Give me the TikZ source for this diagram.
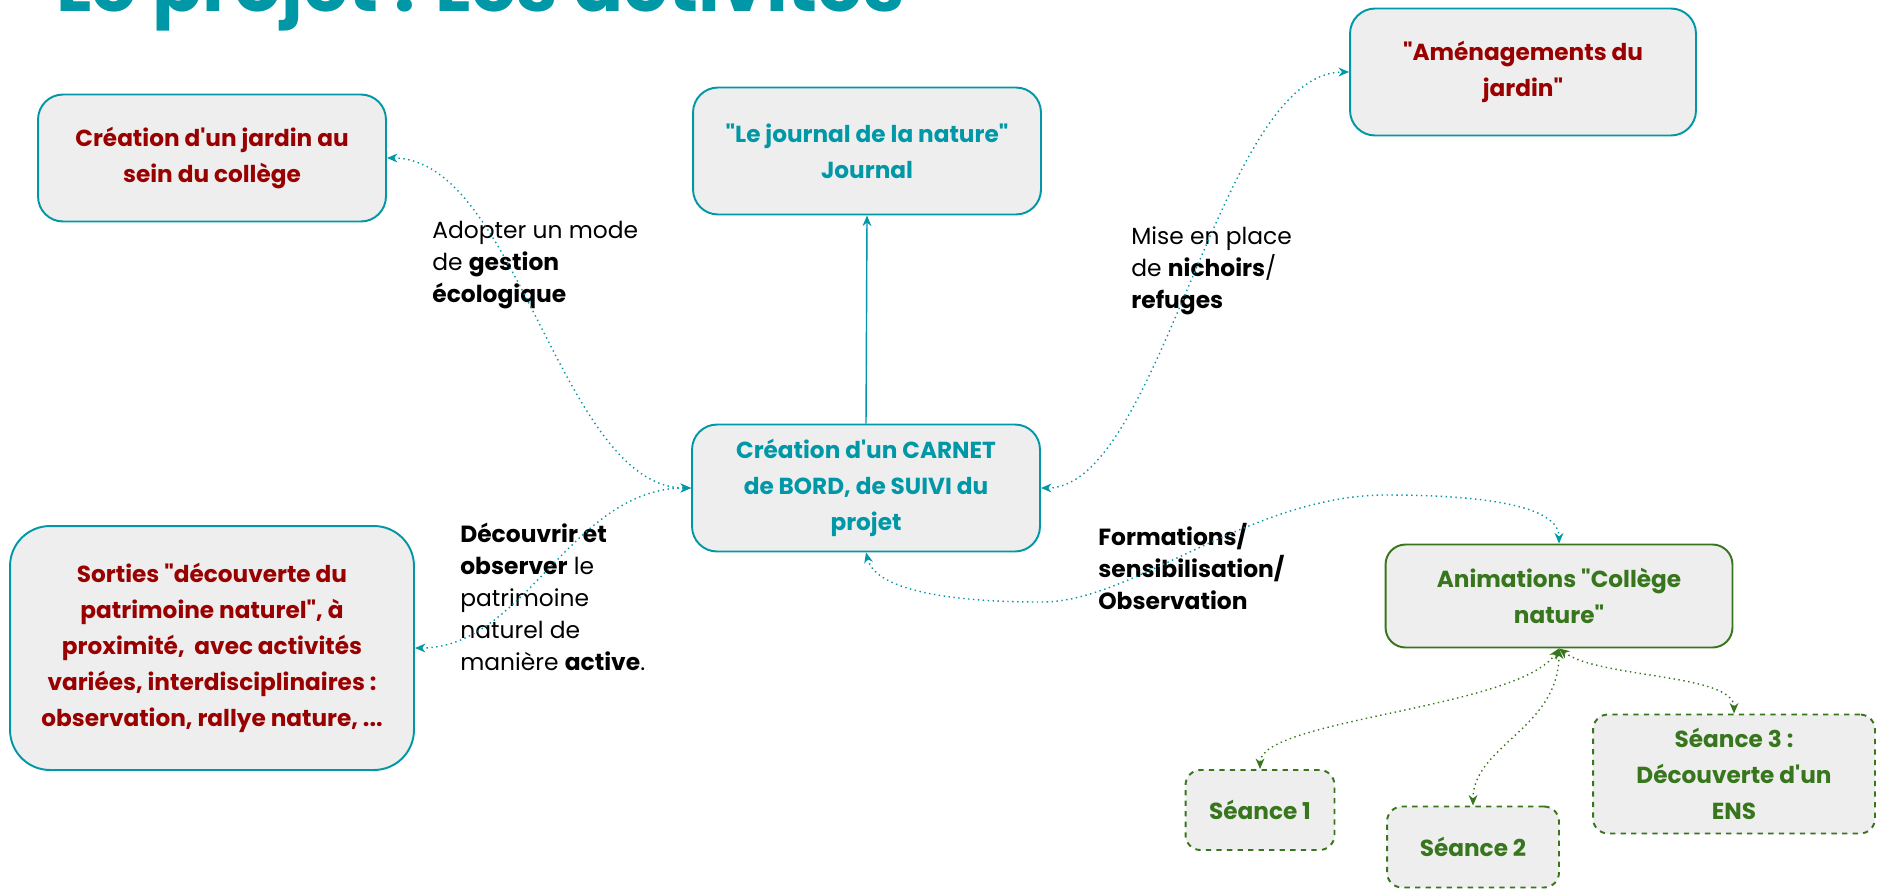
\documentclass[tikz,border=0pt]{standalone}
\usepackage{fontspec}
\newfontfamily\handfont{Poppins}
\usetikzlibrary{arrows.meta}

\definecolor{natteal}{HTML}{0097A7}
\definecolor{natred}{HTML}{990000}
\definecolor{natgreen}{HTML}{38761D}
\definecolor{boxgray}{HTML}{EEEEEE}

\begin{document}
\begin{tikzpicture}[x=0.02cm, y=-0.02cm,
    box/.style={draw=natteal, fill=boxgray, line width=1.1pt, rounded corners=0.5cm,
        align=center, inner sep=2pt, font=\handfont\bfseries\fontsize{13.2}{20.4}\selectfont},
    seance/.style={box, draw=natgreen, dashed, text=natgreen, rounded corners=0.3cm},
    note/.style={anchor=north west, align=left, inner sep=0pt,
        font=\handfont\fontsize{13.3}{18.2}\selectfont},
    link/.style={natteal, thick, dotted, <->, >={Stealth[length=6pt, width=5pt]}},
    glink/.style={link, natgreen}]

    % Page frame
    \path[use as bounding box, fill=white] (0,0) rectangle (1878,890);

    % Title (cut by the top edge)
    \node[anchor=base west, inner sep=0pt, text=natteal,
        font=\handfont\bfseries\fontsize{42}{42}\selectfont] (title) at (56,11) {Le projet : Les activités};

    % Main boxes
    \node[box, text=natred, minimum width=6.96cm, minimum height=2.54cm] (jardin) at (212,158)
        {Création d'un jardin au\\sein du collège};
    \node[box, text=natteal, minimum width=6.96cm, minimum height=2.54cm] (journal) at (867,151)
        {"Le journal de la nature"\\Journal};
    \node[box, text=natred, minimum width=6.92cm, minimum height=2.54cm] (amenag) at (1523,72)
        {"Aménagements du\\jardin"};
    \node[box, text=natteal, minimum width=6.96cm, minimum height=2.54cm] (carnet) at (866,488)
        {Création d'un CARNET\\de BORD, de SUIVI du\\projet};
    \node[box, text=natred, rounded corners=0.8cm, minimum width=8.08cm, minimum height=4.88cm] (sorties) at (212,648)
        {Sorties "découverte du\\patrimoine naturel", à\\proximité,\ \ avec activités\\variées, interdisciplinaires :\\observation, rallye nature, ...};
    \node[box, draw=natgreen, text=natgreen, rounded corners=0.4cm, minimum width=6.94cm, minimum height=2.06cm] (anim) at (1559,596)
        {Animations "Collège\\nature"};

    % Sessions
    \node[seance, minimum width=2.98cm, minimum height=1.6cm] (s1) at (1260,810) {Séance 1};
    \node[seance, minimum width=3.44cm, minimum height=1.62cm] (s2) at (1473,847) {Séance 2};
    \node[seance, minimum width=5.64cm, minimum height=2.38cm] (s3) at (1734,774)
        {Séance 3 :\\Découverte d'un\\ENS};

    % Labels of the links
    \node[note] (gestion) at (432,221) {Adopter un mode\\de \textbf{gestion}\\\textbf{écologique}};
    \node[note] (nichoirs) at (1131,226) {Mise en place\\de \textbf{nichoirs}/\\\textbf{refuges}};
    \node[note] (decouvrir) at (460,523) {\textbf{Découvrir et}\\\textbf{observer} le\\patrimoine\\naturel de\\manière \textbf{active}.};
    \node[note] (formations) at (1098,523) {\textbf{Formations/}\\\textbf{sensibilisation/}\\\textbf{Observation}};

    % Links from the logbook
    \draw[natteal, thick, ->, >={Stealth[length=6pt, width=5pt]}] (carnet.north) -- (journal.south);
    \draw[link] (jardin.east) .. controls +(130,0) and +(-130,0) .. (carnet.west);
    \draw[link] (sorties.east) .. controls +(110,0) and +(-120,0) .. (carnet.west);
    \draw[link] (carnet.east) .. controls +(120,0) and +(-130,0) .. (amenag.west);
    \draw[link] (carnet.south) .. controls +(10,40) and (960,602) .. (1040,602)
        .. controls (1130,604) and (1250,495) .. (1386,495)
        .. controls (1480,495) and (1559,505) .. (anim.north);

    % Links to the sessions
    \draw[glink] (anim.south) .. controls +(-40,60) and +(0,-50) .. (s1.north);
    \draw[glink] (anim.south) .. controls +(0,80) and +(0,-60) .. (s2.north);
    \draw[glink] (anim.south) .. controls +(40,30) and +(0,-40) .. (s3.north);
\end{tikzpicture}
\end{document}
